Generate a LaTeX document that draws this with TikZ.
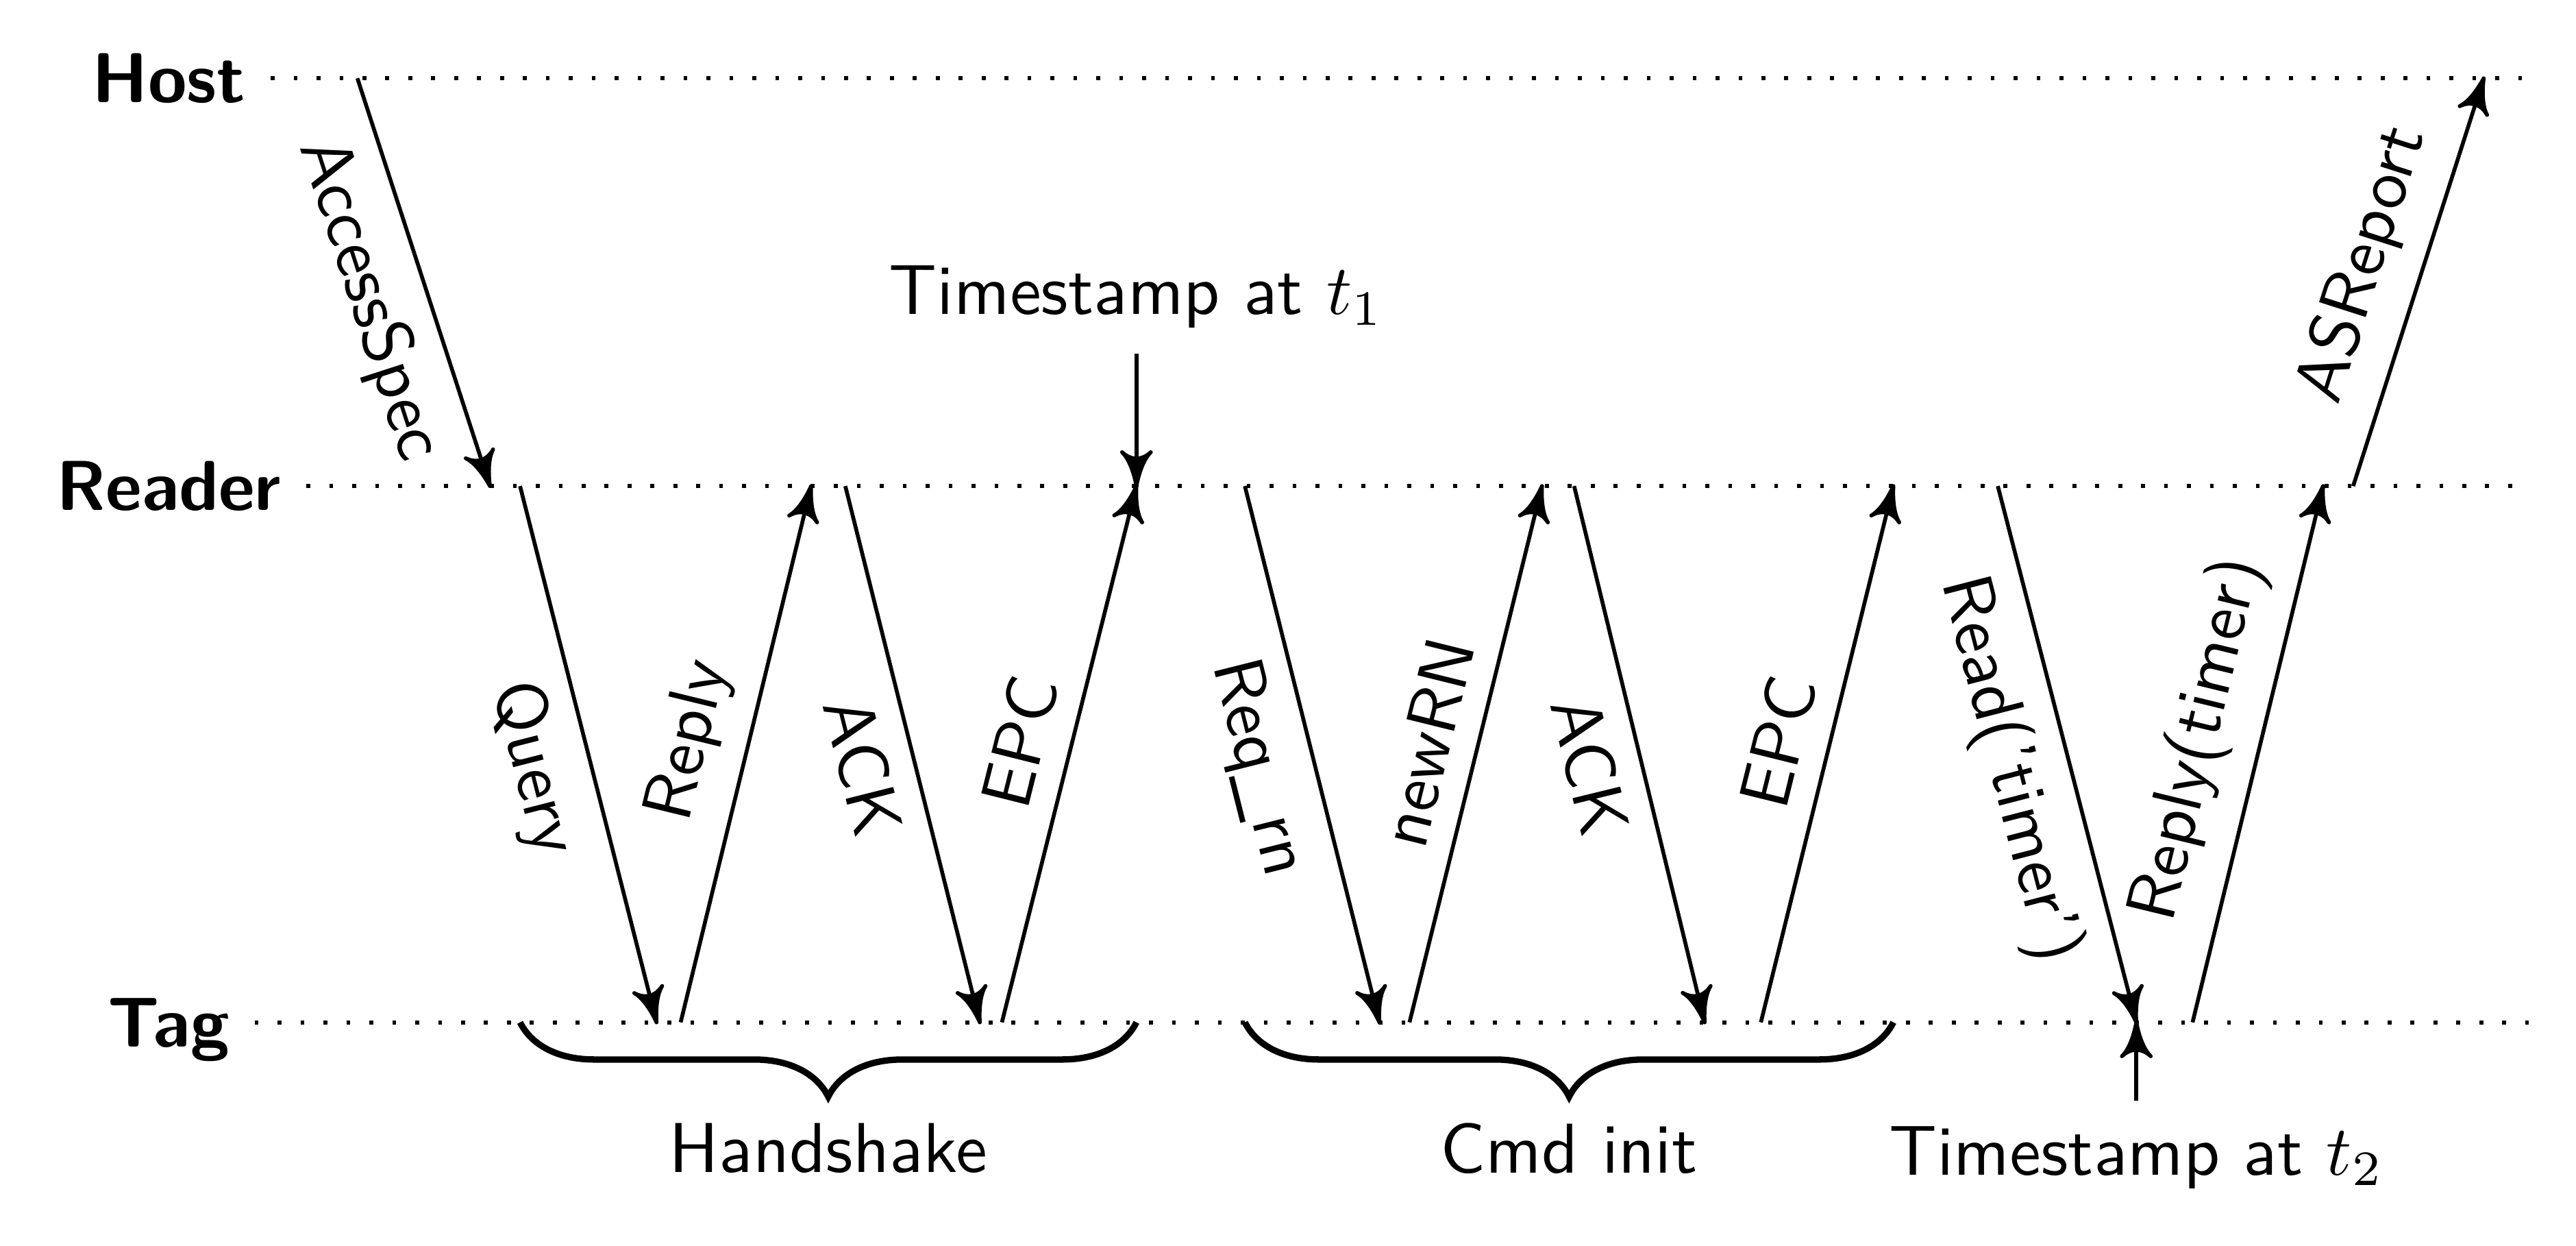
\documentclass[tikz,border=0pt]{standalone}
\usepackage{amsmath}
\usepackage{tikz}
\usetikzlibrary{arrows,decorations.pathreplacing,positioning}
\newcommand{\HostY}{4.70}
\newcommand{\ReaderY}{2.67}
\newcommand{\TagY}{0}
\newcommand{\LineEnd}{12.6}
% a slightly larger curved stealth tip
\newdimen\tipsize
\tipsize=0.6pt
\pgfarrowsdeclare{swept}{swept}
{\pgfarrowsleftextend{-3\tipsize}\pgfarrowsrightextend{5\tipsize}}
{
  \pgfsetdash{}{0pt}
  \pgfsetroundjoin
  \pgfpathmoveto{\pgfqpoint{5\tipsize}{0pt}}
  \pgfpathcurveto{\pgfqpoint{3.33\tipsize}{.3\tipsize}}{\pgfqpoint{-1\tipsize}{1.3\tipsize}}{\pgfqpoint{-3\tipsize}{3.4\tipsize}}
  \pgfpathcurveto{\pgfqpoint{-1\tipsize}{1.3\tipsize}}{\pgfqpoint{-1\tipsize}{-1.3\tipsize}}{\pgfqpoint{-3\tipsize}{-3.4\tipsize}}
  \pgfpathcurveto{\pgfqpoint{-1\tipsize}{-1.3\tipsize}}{\pgfqpoint{3.33\tipsize}{-.3\tipsize}}{\pgfqpoint{5\tipsize}{0pt}}
  \pgfpathclose
  \pgfusepathqfillstroke
}

\begin{document}
\begin{tikzpicture}[font=\sffamily,>=swept,line width=0.55pt,
  actor/.style={font=\sffamily\bfseries,text depth=0pt},
  lifeline/.style={dash pattern=on 0.55pt off 2.7pt},
  msg/.style={->},
  phase/.style={line width=0.9pt,decorate,decoration={brace,mirror,amplitude=0.37cm}}]
\useasboundingbox (0,-1.113) rectangle (12.83,5.09);

\node[actor] (host) at (0.84,\HostY) {Host};
\node[actor] (reader) at (0.84,\ReaderY) {Reader};
\node[actor] (tag) at (0.84,\TagY) {Tag};

\draw[lifeline] (host) -- (\LineEnd,\HostY);
\draw[lifeline] (reader) -- (\LineEnd,\ReaderY);
\draw[lifeline] (tag) -- (\LineEnd,\TagY);

\coordinate (H1) at (1.78,\HostY);
\coordinate (R1) at (2.44,\ReaderY);
\coordinate (R2) at (2.59,\ReaderY);
\coordinate (T2) at (3.27,\TagY);
\coordinate (T3) at (3.39,\TagY);
\coordinate (R3) at (4.04,\ReaderY);
\coordinate (R4) at (4.21,\ReaderY);
\coordinate (T4) at (4.88,\TagY);
\coordinate (T5) at (4.99,\TagY);
\coordinate (R5) at (5.66,\ReaderY);
\coordinate (R6) at (6.20,\ReaderY);
\coordinate (T6) at (6.87,\TagY);
\coordinate (T7) at (7.02,\TagY);
\coordinate (R7) at (7.68,\ReaderY);
\coordinate (R8) at (7.84,\ReaderY);
\coordinate (T8) at (8.49,\TagY);
\coordinate (T9) at (8.77,\TagY);
\coordinate (R9) at (9.43,\ReaderY);
\coordinate (R10) at (9.95,\ReaderY);
\coordinate (T10) at (10.64,\TagY);
\coordinate (T11) at (10.92,\TagY);
\coordinate (R11) at (11.57,\ReaderY);
\coordinate (R12) at (11.72,\ReaderY);
\coordinate (H12) at (12.37,\HostY);

\draw[msg] (H1) -- (R1) node[midway,below,sloped] {AccessSpec};
% Handshake
\draw[msg] (R2) -- (T2) node[midway,below,sloped] {Query};
\draw[msg] (T3) -- (R3) node[midway,above,sloped] {Reply};
\draw[msg] (R4) -- (T4) node[midway,below,sloped] {ACK};
\draw[msg] (T5) -- (R5) node[midway,above,sloped] {EPC};
% Cmd init
\draw[msg] (R6) -- (T6) node[midway,below,sloped] {Req\_rn};
\draw[msg] (T7) -- (R7) node[midway,above,sloped] {newRN};
\draw[msg] (R8) -- (T8) node[midway,below,sloped] {ACK};
\draw[msg] (T9) -- (R9) node[midway,above,sloped] {EPC};
% timer read
\draw[msg] (R10) -- (T10) node[midway,below,sloped] {Read('timer')};
\draw[msg] (T11) -- (R11) node[midway,above,sloped] {Reply(timer)};
\draw[msg] (R12) -- (H12) node[midway,above,sloped] {ASReport};

\node (ts1) [above=0.66cm of R5] {Timestamp at $t_1$};
\draw[msg] (ts1) -- (R5);
\node (ts2) [below=0.39cm of T10] {Timestamp at $t_2$};
\draw[msg] (ts2) -- (T10);

\draw[phase] (R2 |- T2) -- (R5 |- T5) node[midway,below=0.37cm] {Handshake};
\draw[phase] (R6 |- T6) -- (R9 |- T9) node[midway,below=0.37cm] {Cmd init};
\end{tikzpicture}
\end{document}
